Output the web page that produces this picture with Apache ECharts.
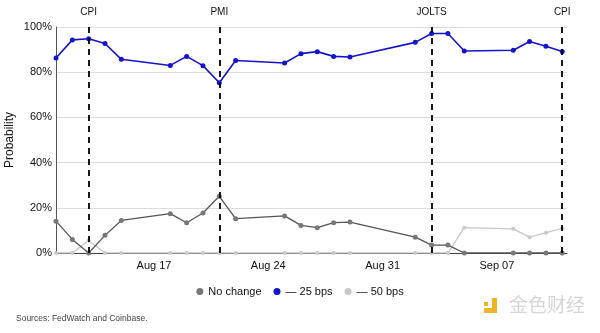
<!DOCTYPE html>
<html><head><meta charset="utf-8">
<script src="https://cdn.jsdelivr.net/npm/echarts@6/dist/echarts.min.js"></script>
<style>html,body{margin:0;padding:0;background:#fff}#c{width:600px;height:333px}</style>
</head><body><div id="c"></div>
<script>
const dates = ['2025-08-11','2025-08-12','2025-08-13','2025-08-14','2025-08-15','2025-08-18','2025-08-19','2025-08-20','2025-08-21','2025-08-22','2025-08-25','2025-08-26','2025-08-27','2025-08-28','2025-08-29','2025-09-02','2025-09-03','2025-09-04','2025-09-05','2025-09-08','2025-09-09','2025-09-10','2025-09-11'];
const noChange = [14.1,6.0,0,7.8,14.4,17.4,13.4,17.7,25.1,15.2,16.4,12.2,11.2,13.4,13.7,7.0,3.5,3.5,0,0,0,0,0];
const cut25 = [86.3,94.3,94.8,92.7,85.7,83.0,87.0,82.9,75.3,85.2,84.1,88.2,89.1,87.0,86.7,93.2,97.1,97.1,89.4,89.7,93.6,91.5,89.2];
const cut50 = [0,0,5.5,0,0,0,0,0,0,0,0,0,0,0,0,0,0,0,11.2,10.7,7.0,9.0,10.9];
const events = [['2025-08-13','CPI'],['2025-08-21','PMI'],['2025-09-03','JOLTS'],['2025-09-11','CPI']];
const tickDates = ['2025-08-17','2025-08-24','2025-08-31','2025-09-07'];
const seriesNames = ['No change','— 25 bps','— 50 bps'];

function ts(s){const p=s.split('-').map(Number);return new Date(p[0],p[1]-1,p[2]).getTime();}
const MON=['Jan','Feb','Mar','Apr','May','Jun','Jul','Aug','Sep','Oct','Nov','Dec'];
function fmt(v){const d=new Date(v);return MON[d.getMonth()]+' '+String(d.getDate()).padStart(2,'0');}
const FONT='"Liberation Sans",Arial,sans-serif';
const pairs = arr => dates.map((d,i)=>[ts(d),arr[i]]);

const chart = echarts.init(document.getElementById('c'),null,{renderer:'canvas'});
chart.setOption({
  animation:false,
  textStyle:{fontFamily:FONT},
  grid:{left:56,right:33,top:27,bottom:80,containLabel:false,outerBoundsMode:'none'},
  legend:{
    top:281,left:'center',itemWidth:7,itemHeight:7,itemGap:12,
    icon:'circle',
    textStyle:{fontFamily:FONT,fontSize:11,color:'#111'},
    data:seriesNames
  },
  xAxis:{
    type:'value',min:ts('2025-08-11'),max:ts('2025-09-11')+7*3600e3,
    axisLine:{lineStyle:{color:'#444',width:1}},
    axisTick:{show:false},
    splitLine:{show:false},
    axisLabel:{customValues:tickDates.map(ts),formatter:v=>fmt(v),color:'#111',fontSize:11,margin:7,fontFamily:FONT}
  },
  yAxis:{
    type:'value',min:0,max:100,interval:20,
    name:'Probability',nameLocation:'middle',nameGap:40,nameRotate:90,nameMoveOverlap:false,
    nameTextStyle:{fontFamily:FONT,fontSize:12,color:'#111'},
    axisLine:{show:true,lineStyle:{color:'#555'}},
    axisTick:{show:false},
    splitLine:{lineStyle:{color:'#ddd'}},
    axisLabel:{formatter:'{value}%',color:'#111',fontSize:11,margin:4,fontFamily:FONT}
  },
  series:[
    {name:seriesNames[2],type:'line',data:pairs(cut50),symbol:'circle',symbolSize:4,
     itemStyle:{color:'#c8c8c8'},lineStyle:{color:'#c8c8c8',width:1.3},z:2},
    {name:seriesNames[0],type:'line',data:pairs(noChange),symbol:'circle',symbolSize:5,
     itemStyle:{color:'#777'},lineStyle:{color:'#555',width:1.3},z:3},
    {name:seriesNames[1],type:'line',data:pairs(cut25),symbol:'circle',symbolSize:5,
     itemStyle:{color:'#1414cc'},lineStyle:{color:'#1414cc',width:1.6},z:4,
     markLine:{silent:true,symbol:['none','none'],
       lineStyle:{color:'#000',type:[6,5],width:1.8},
       label:{show:true,position:'end',distance:10,color:'#111',fontSize:10,fontFamily:FONT,formatter:p=>p.name},
       data:events.map(e=>({name:e[1],xAxis:ts(e[0])}))}}
  ],
  graphic:[
    {type:'text',left:16,top:314,style:{text:'Sources: FedWatch and Coinbase.',fill:'#444',font:'8.5px '+FONT}},
    {type:'rect',shape:{x:484,y:302,width:4,height:4},style:{fill:'#f0b429'}},
    {type:'rect',shape:{x:492,y:298,width:5,height:15},style:{fill:'#f0b429'}},
    {type:'rect',shape:{x:484,y:308,width:13,height:5},style:{fill:'#f0b429'}},
    {type:'text',left:509,top:295,style:{text:'金色财经',fill:'#d6d6d6',font:'19px "Noto Sans CJK SC"'}}
  ]
});
</script></body></html>
